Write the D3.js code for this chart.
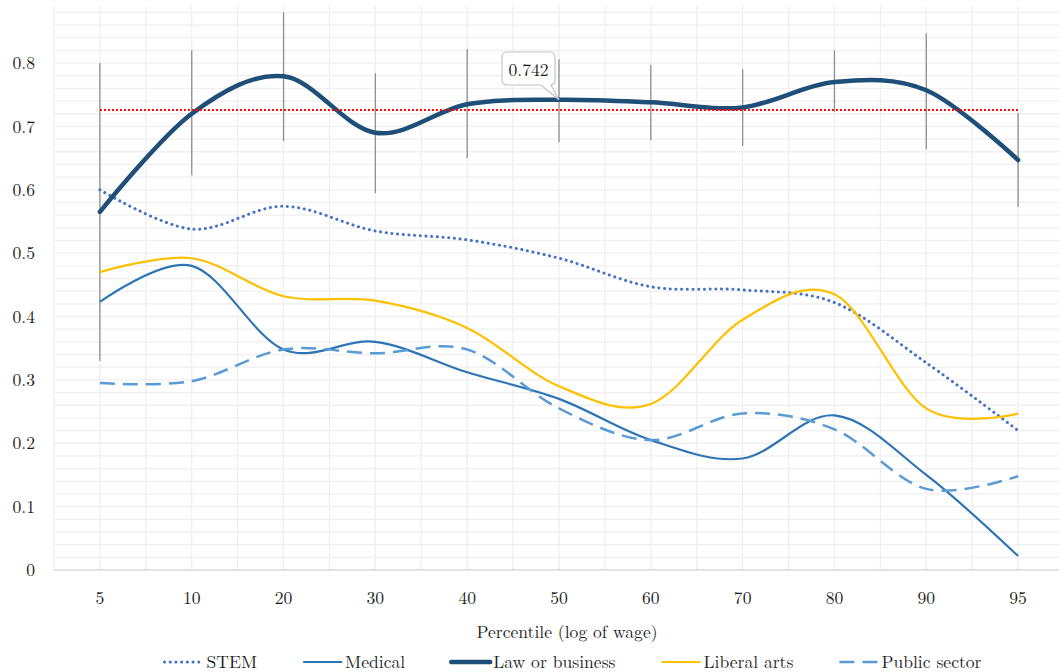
<!DOCTYPE html>
<html>
<head>
<meta charset="utf-8">
<script src="https://cdn.jsdelivr.net/npm/d3@7"></script>
<style>
    body { margin: 0; background: #fff; }
</style>
</head>
<body>
<div id="chart"></div>
<script>
// data
const percentiles = ["5", "10", "20", "30", "40", "50", "60", "70", "80", "90", "95"];
const stem = [0.600, 0.538, 0.574, 0.535, 0.521, 0.492, 0.447, 0.442, 0.422, 0.327, 0.220];
const medical = [0.423, 0.480, 0.348, 0.360, 0.312, 0.270, 0.205, 0.176, 0.244, 0.150, 0.022];
const lawBusiness = [0.565, 0.720, 0.779, 0.690, 0.735, 0.742, 0.738, 0.730, 0.770, 0.757, 0.647];
const liberalArts = [0.470, 0.492, 0.432, 0.425, 0.382, 0.290, 0.262, 0.395, 0.435, 0.255, 0.247];
const publicSector = [0.295, 0.298, 0.348, 0.342, 0.348, 0.255, 0.205, 0.247, 0.222, 0.128, 0.148];
const lawLow = [0.330, 0.623, 0.677, 0.595, 0.650, 0.675, 0.678, 0.669, 0.723, 0.664, 0.573];
const lawHigh = [0.800, 0.820, 0.880, 0.784, 0.822, 0.806, 0.797, 0.790, 0.820, 0.847, 0.721];
const lawAverage = 0.726;
const yTicks = [0, 0.1, 0.2, 0.3, 0.4, 0.5, 0.6, 0.7, 0.8];
const calloutIndex = 5; // "50"

const series = [
    { name: "STEM", values: stem, color: "#4472c4", width: 3, dash: "0.1 5.6", cap: "round" },
    { name: "Medical", values: medical, color: "#2e75b6", width: 2.2, dash: null, cap: "butt" },
    { name: "Law or business", values: lawBusiness, color: "#1f4e79", width: 4.5, dash: null, cap: "round" },
    { name: "Liberal arts", values: liberalArts, color: "#ffc000", width: 2.2, dash: null, cap: "butt" },
    { name: "Public sector", values: publicSector, color: "#5b9bd5", width: 2.5, dash: "15 8", cap: "butt" }
];

const font = "'Latin Modern Roman', 'Liberation Serif', serif";
const textColor = "#1f1f1f";

// canvas
const width = 1059, height = 672;
const svg = d3.select("#chart").append("svg")
    .attr("width", width)
    .attr("height", height);

const xScale = d3.scalePoint()
    .domain(percentiles)
    .range([54, 1064])
    .padding(0.5);

const yScale = d3.scaleLinear()
    .domain([0, 0.89])
    .range([570, 6]);

const step = xScale.step();

// small helper so every label gets the same font
function label(sel) {
    return sel.style("font-family", font)
        .style("font-size", "17.6px")
        .attr("fill", textColor)
        .attr("dy", "0.35em");
}

// gridlines (every 0.02 horizontally, every half category vertically)
const grid = svg.append("g");
const hLines = d3.range(0.02, 0.881, 0.02);
grid.selectAll("line.h")
    .data(hLines)
    .enter().append("line")
    .attr("x1", 54).attr("x2", 1064)
    .attr("y1", d => yScale(d)).attr("y2", d => yScale(d))
    .attr("stroke", "#efefef").attr("stroke-width", 1.3);

const vLines = [];
percentiles.forEach(p => { vLines.push(xScale(p) - step / 2); vLines.push(xScale(p)); });
vLines.push(xScale(percentiles[percentiles.length - 1]) + step / 2);
grid.selectAll("line.v")
    .data(vLines)
    .enter().append("line")
    .attr("x1", d => d).attr("x2", d => d)
    .attr("y1", yScale(0.89)).attr("y2", yScale(0))
    .attr("stroke", "#efefef").attr("stroke-width", 1.3);

// x axis line
svg.append("line")
    .attr("x1", 54).attr("x2", 1064)
    .attr("y1", yScale(0)).attr("y2", yScale(0))
    .attr("stroke", "#d9d9d9").attr("stroke-width", 1.3);

// tick labels
svg.append("g").selectAll("text")
    .data(yTicks)
    .enter().append("text")
    .attr("x", 35)
    .attr("y", d => yScale(d))
    .attr("text-anchor", "end")
    .call(label)
    .text(d => d === 0 ? "0" : d.toFixed(1));

svg.append("g").selectAll("text")
    .data(percentiles)
    .enter().append("text")
    .attr("x", d => xScale(d))
    .attr("y", 598)
    .attr("text-anchor", "middle")
    .call(label)
    .text(d => d);

svg.append("text")
    .attr("x", 567)
    .attr("y", 632)
    .attr("text-anchor", "middle")
    .call(label)
    .text("Percentile (log of wage)");

// error bars for law or business
svg.append("g").selectAll("line")
    .data(percentiles)
    .enter().append("line")
    .attr("x1", d => xScale(d)).attr("x2", d => xScale(d))
    .attr("y1", (d, i) => yScale(lawLow[i]))
    .attr("y2", (d, i) => yScale(lawHigh[i]))
    .attr("stroke", "#8f8f8f").attr("stroke-width", 1.3);

// lines
const line = d3.line()
    .x((d, i) => xScale(percentiles[i]))
    .y(d => yScale(d))
    .curve(d3.curveCardinal.tension(0));

svg.append("g").selectAll("path")
    .data(series)
    .enter().append("path")
    .attr("d", d => line(d.values))
    .attr("fill", "none")
    .attr("stroke", d => d.color)
    .attr("stroke-width", d => d.width)
    .attr("stroke-linecap", d => d.cap)
    .attr("stroke-dasharray", d => d.dash);

// average line
svg.append("line")
    .attr("x1", xScale(percentiles[0]))
    .attr("x2", xScale(percentiles[percentiles.length - 1]))
    .attr("y1", yScale(lawAverage)).attr("y2", yScale(lawAverage))
    .attr("stroke", "#ff0000").attr("stroke-width", 2)
    .attr("stroke-dasharray", "2 2");

// callout
const cx = xScale(percentiles[calloutIndex]);
const cy = yScale(lawBusiness[calloutIndex]);
const bx0 = 502, bx1 = 555, by0 = 52, by1 = 85, r = 5;
svg.append("path")
    .attr("d", `M${bx0 + r},${by0} H${bx1 - r} Q${bx1},${by0} ${bx1},${by0 + r} V${by1 - r}
        Q${bx1},${by1} ${bx1 - r},${by1} H${bx1 - 4} L${cx},${cy} L${bx1 - 14},${by1}
        H${bx0 + r} Q${bx0},${by1} ${bx0},${by1 - r} V${by0 + r} Q${bx0},${by0} ${bx0 + r},${by0} Z`)
    .attr("fill", "#fff")
    .attr("stroke", "#c4c4c4")
    .attr("stroke-width", 1.2);

svg.append("text")
    .attr("x", (bx0 + bx1) / 2)
    .attr("y", 70)
    .attr("text-anchor", "middle")
    .call(label)
    .text(lawBusiness[calloutIndex].toFixed(3));

// legend
const legend = svg.append("g");
let lx = 0;
series.forEach(s => {
    const g = legend.append("g");
    g.append("line")
        .attr("x1", 0).attr("x2", 39)
        .attr("y1", 0).attr("y2", 0)
        .attr("stroke", s.color)
        .attr("stroke-width", s.width)
        .attr("stroke-linecap", s.cap)
        .attr("stroke-dasharray", s.dash);
    const t = g.append("text")
        .attr("x", 42)
        .call(label)
        .text(s.name);
    const w = 42 + t.node().getComputedTextLength();
    g.attr("transform", "translate(" + lx + ",0)");
    lx += w + 46;
});
const legendWidth = lx - 46;
legend.attr("transform", "translate(" + (573 - legendWidth / 2) + ", 662)");
</script>
</body>
</html>
